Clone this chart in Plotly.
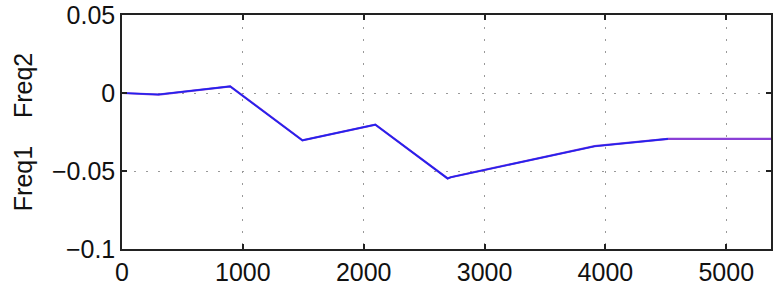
import plotly.graph_objects as go

# Data
x_vals = [0, 302, 895, 1493, 2096, 2694, 2720, 3911, 4517, 5370]
freq_diff_a = [0.0, -0.001, 0.0042, -0.0303, -0.0203, -0.0548, -0.0540, -0.0341, -0.0294, -0.0294]
x_vals_b = [0, 302, 895, 1493, 2096, 2694, 2720, 3911, 4517]
freq_diff_b = [0.0, -0.001, 0.0042, -0.0303, -0.0203, -0.0548, -0.0540, -0.0341, -0.0294]

x_ticks = [0, 1000, 2000, 3000, 4000, 5000]
y_ticks = [-0.1, -0.05, 0, 0.05]
y_tick_labels = ["\u22120.1", "\u22120.05", "0", "0.05"]

fig = go.Figure()
fig.add_trace(go.Scatter(x=x_vals, y=freq_diff_a, mode="lines",
                         line=dict(color="#8a3fd6", width=2.2), showlegend=False))
fig.add_trace(go.Scatter(x=x_vals_b, y=freq_diff_b, mode="lines",
                         line=dict(color="#2222ee", width=1.6), showlegend=False))

font_family = "Liberation Sans, Arial, sans-serif"
fig.update_layout(
    width=773, height=289,
    margin=dict(l=122, r=2, t=15, b=40, autoexpand=False),
    paper_bgcolor="white", plot_bgcolor="white",
    font=dict(family=font_family, size=25, color="#111"),
)
fig.update_xaxes(
    range=[0, 5370], tickvals=x_ticks, ticktext=[str(v) for v in x_ticks],
    showline=True, linecolor="#222", linewidth=1.5, mirror="ticks",
    ticks="inside", ticklen=5, tickcolor="#222", tickwidth=1.5,
    showgrid=True, gridcolor="#999", gridwidth=1, griddash="2px,10px",
    zeroline=False, tickfont=dict(size=25), automargin=False,
)
fig.update_yaxes(
    range=[-0.1, 0.05], tickvals=y_ticks, ticktext=y_tick_labels,
    showline=True, linecolor="#222", linewidth=1.5, mirror="ticks",
    ticks="inside", ticklen=5, tickcolor="#222", tickwidth=1.5,
    showgrid=True, gridcolor="#999", gridwidth=1, griddash="2px,10px",
    zeroline=False, tickfont=dict(size=25), automargin=False,
    title=dict(text="Freq1\u00a0\u00a0\u00a0\u00a0Freq2", font=dict(size=25), standoff=12),
)

fig.write_html("out.html", config={"displayModeBar": False},
               post_script="document.body.style.margin='0';document.body.style.padding='0';")
